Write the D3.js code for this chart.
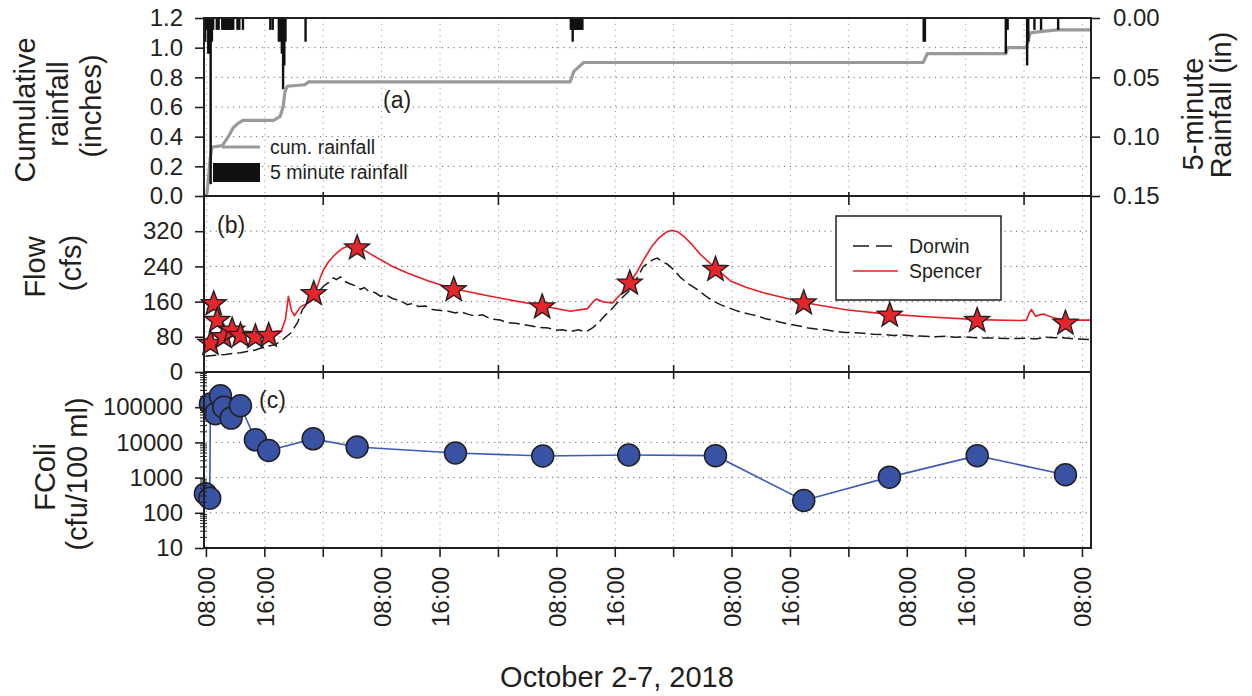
<!DOCTYPE html>
<html><head><meta charset="utf-8">
<script src="https://cdn.jsdelivr.net/npm/d3@7"></script>
<style>body{margin:0;background:#fff}svg{display:block;font-family:"Liberation Sans",Arial,Helvetica,sans-serif}</style>
</head><body><svg id="c" width="1252" height="696"></svg>
<script>
// ---- DATA (time values are hours since 2018-10-02 00:00) ----
const cumHours = [7.67, 8.0, 8.08, 8.25, 8.5, 8.75, 10.17, 11.0, 11.67, 12.33, 13.0, 17.17, 18.08, 18.5, 18.75, 19.08, 21.5, 22.0, 57.83, 58.33, 59.67, 106.17, 106.75, 117.5, 117.75, 120.33, 120.83, 122.42, 124.67, 129.17];
const cumRain  = [0, 0.01, 0.02, 0.10, 0.25, 0.33, 0.34, 0.40, 0.46, 0.49, 0.51, 0.51, 0.535, 0.60, 0.70, 0.74, 0.75, 0.77, 0.77, 0.84, 0.90, 0.90, 0.96, 0.96, 1.00, 1.00, 1.10, 1.11, 1.12, 1.12];

const rainHours = [7.83, 8.08, 8.25, 8.42, 8.58, 8.75, 8.92, 9.42, 9.67,
  10.17, 10.33, 10.5, 10.67, 10.83, 11.0, 11.17, 11.33, 11.5, 11.67,
  12.25, 12.5, 13.0, 16.75, 17.08, 17.92, 18.17, 18.33, 18.5, 18.67, 18.83, 21.58,
  57.92, 58.08, 58.17, 58.33, 58.5, 58.67, 58.83, 59.0, 59.17, 59.33, 59.5,
  106.25, 106.42, 117.5, 117.75, 120.42, 120.58, 121.42, 122.33, 124.67];
const rain5min = [0.02, 0.01, 0.03, 0.03, 0.14, 0.02, 0.01, 0.01, 0.01,
  0.01, 0.01, 0.01, 0.01, 0.01, 0.01, 0.01, 0.01, 0.01, 0.01,
  0.01, 0.01, 0.01, 0.01, 0.01, 0.02, 0.02, 0.03, 0.06, 0.04, 0.02, 0.02,
  0.01, 0.01, 0.02, 0.01, 0.01, 0.01, 0.01, 0.01, 0.01, 0.01, 0.01,
  0.02, 0.02, 0.03, 0.01, 0.04, 0.02, 0.01, 0.01, 0.01];

const spencerHours = [7.86, 9.23, 12.66, 16.77, 18.27, 18.82, 19.23, 19.64, 20.05, 20.88, 22.25, 23.21, 23.6, 24.03, 24.7, 25.40, 26.1, 26.77, 27.73, 28.68, 30.0, 31.42, 33.5, 35.53, 38.5, 41.84, 46.90, 53.75, 57.86, 60.19, 61.01, 61.42, 62.38, 63.62, 64.8, 66.08, 67.0, 68.0, 69.0, 70.0, 71.0, 71.8, 72.6, 73.4, 74.5, 75.67, 77.73, 79.78, 82.0, 84.30, 89.78, 95.81, 101.70, 107.18, 113.62, 119.51, 120.33, 120.74, 121.01, 121.56, 122.66, 124.03, 125.67, 129.10];
const spencerFlow  = [75, 83, 87, 90, 94, 120, 172, 140, 128, 148, 160, 195, 215, 232, 250, 263, 274, 282, 288, 285, 273, 259, 240, 225, 206, 189, 172, 151, 138, 144, 160, 166, 159, 157, 178, 205, 228, 258, 285, 305, 318, 322, 318, 308, 290, 267, 236, 207, 192, 180, 158, 141, 131, 125, 119, 117, 118, 135, 142, 127, 132, 123, 118, 118];

const dorwinHours = [7.86, 9.23, 10.60, 12.66, 14.71, 16.36, 17.45, 18.55, 19.51, 20.47, 21.15, 22.25, 23.21, 24.03, 24.71, 25.40, 25.81, 26.36, 27.04, 27.73, 28.41, 29.10, 29.64, 30.19, 31.15, 31.84, 32.52, 33.48, 34.58, 35.53, 36.22, 37.04, 38.00, 38.96, 40.05, 41.15, 42.11, 42.79, 43.89, 44.85, 45.81, 46.90, 48.27, 49.23, 50.33, 51.29, 52.38, 53.75, 54.85, 55.81, 56.77, 57.86, 58.96, 59.92, 60.88, 61.70, 62.52, 63.34, 64.71, 66.08, 67.04, 67.86, 68.55, 69.10, 69.78, 70.47, 71.15, 71.97, 72.93, 74.03, 75.26, 76.36, 77.32, 78.41, 79.51, 80.47, 81.42, 82.52, 83.62, 84.58, 85.53, 86.63, 88.00, 89.37, 90.47, 91.70, 92.79, 94.16, 95.53, 96.90, 98.00, 99.37, 100.74, 102.11, 103.48, 104.85, 106.49, 107.86, 109.23, 110.60, 111.70, 113.34, 114.71, 116.08, 117.45, 118.55, 120.19, 121.56, 122.93, 124.30, 125.40, 127.04, 129.10];
const dorwinFlow  = [36, 38, 40, 44, 50, 59, 62, 75, 88, 112, 142, 165, 180, 195, 203, 214, 210, 216, 205, 200, 196, 188, 192, 184, 180, 172, 176, 167, 162, 153, 156, 149, 150, 142, 140, 138, 134, 137, 131, 127, 130, 121, 118, 112, 111, 108, 105, 101, 100, 95, 96, 92, 96, 91, 100, 112, 127, 140, 165, 187, 215, 240, 248, 255, 259, 250, 245, 233, 215, 200, 187, 173, 162, 153, 146, 140, 135, 131, 127, 121, 118, 113, 108, 104, 100, 97, 96, 92, 90, 89, 88, 86, 85, 83, 84, 82, 81, 80, 81, 79, 80, 78, 77, 77, 76, 76, 77, 75, 79, 78, 78, 75, 74];

const starHours = [8.55, 9.0, 9.47, 10.37, 11.52, 12.66, 14.71, 16.53, 22.70, 28.64, 41.88, 53.99, 65.99, 77.73, 89.82, 101.60, 113.58, 125.67];
const starFlow  = [67, 157, 119, 82, 97, 85, 82, 85, 180, 284, 189, 150, 204, 235, 159, 131, 119, 113];

const fcoliHours = [7.86, 8.45, 8.55, 9.23, 9.92, 10.37, 11.38, 12.66, 14.71, 16.53, 22.62, 28.64, 42.11, 54.07, 65.85, 77.73, 89.82, 101.56, 113.58, 125.67];
const fcoli      = [350, 260, 124000, 65000, 210000, 100000, 49000, 110000, 11800, 5900, 12600, 7400, 5000, 4100, 4400, 4200, 224, 1030, 4200, 1200];

const cumTicks  = [0, 0.2, 0.4, 0.6, 0.8, 1.0, 1.2];
const rainTicks = [0, 0.05, 0.10, 0.15];
const flowTicks = [0, 80, 160, 240, 320];
const colTicks  = [10, 100, 1000, 10000, 100000];

// ---- SETUP ----
const base = new Date(2018, 9, 2, 0, 0);
const T = h => new Date(base.getTime() + h * 3600e3);
const L = 204, R = 1091, Y0 = 18, Y1 = 196, Y2 = 372, Y3 = 548;
const x = d3.scaleTime().domain([T(7.667), T(129.17)]).range([L, R]);
const yCum = d3.scaleLinear().domain([0, 1.2]).range([Y1, Y0]);
const yRain = d3.scaleLinear().domain([0, 0.15]).range([Y0, Y1]);
const yFlow = d3.scaleLinear().domain([0, 400]).range([Y2, Y1]);
const yCol = d3.scaleLog().domain([10, 1e6]).range([Y3, Y2]);

const svg = d3.select("#c");
const FONT_TICK = 24, FONT_TITLE = 29, FONT_LEG = 19.5;
const ink = "#231f20";

const xTicks = x.ticks(d3.timeHour.every(8));

// gridlines
const grid = svg.append("g");
xTicks.forEach(t => {
  grid.append("line").attr("x1", x(t)).attr("x2", x(t)).attr("y1", Y0).attr("y2", Y3)
    .attr("stroke", "#9a9a9a").attr("stroke-width", 1).attr("stroke-dasharray", "1.2,4.6");
});
const hgrid = (scale, vals) => vals.forEach(v => {
  grid.append("line").attr("x1", L).attr("x2", R).attr("y1", scale(v)).attr("y2", scale(v))
    .attr("stroke", "#666").attr("stroke-width", 1).attr("stroke-dasharray", "1.2,4.6");
});
hgrid(yCum, [0.2, 0.4, 0.6, 0.8, 1.0]);
hgrid(yFlow, [80, 160, 240, 320]);
hgrid(yCol, [100, 1000, 10000, 100000]);

// clip paths
const defs = svg.append("defs");
[["ca", Y0, Y1], ["cb", Y1, Y2], ["cc", Y2, Y3]].forEach(([id, a, b]) => {
  defs.append("clipPath").attr("id", id).append("rect").attr("x", L).attr("y", a).attr("width", R - L).attr("height", b - a);
});

// ---- PANEL A ----
const pa = svg.append("g").attr("clip-path", "url(#ca)");
const cumData = cumHours.map((h, i) => [T(h), cumRain[i]]);
pa.append("path").datum(cumData)
  .attr("d", d3.line().x(d => x(d[0])).y(d => yCum(d[1])))
  .attr("fill", "none").attr("stroke", "#999").attr("stroke-width", 3.2).attr("stroke-linejoin", "round");
pa.selectAll("rect.rain").data(rainHours.map((h, i) => [T(h), rain5min[i]])).join("rect")
  .attr("x", d => x(d[0]) - 1.2).attr("width", 2.4)
  .attr("y", Y0).attr("height", d => yRain(d[1]) - Y0).attr("fill", "#111");

// legend a
svg.append("line").attr("x1", 222).attr("x2", 260).attr("y1", 147).attr("y2", 147)
  .attr("stroke", "#999").attr("stroke-width", 3.2);
svg.append("rect").attr("x", 213).attr("y", 163).attr("width", 47).attr("height", 19).attr("fill", "#111");
svg.append("text").attr("x", 270).attr("y", 154).attr("font-size", FONT_LEG).attr("fill", ink).text("cum. rainfall");
svg.append("text").attr("x", 270).attr("y", 179).attr("font-size", FONT_LEG).attr("fill", ink).text("5 minute rainfall");
svg.append("text").attr("x", 383).attr("y", 108).attr("font-size", 23).attr("fill", ink).text("(a)");

// ---- PANEL B ----
const pb = svg.append("g").attr("clip-path", "url(#cb)");
const lineF = d3.line().x(d => x(d[0])).y(d => yFlow(d[1]));
pb.append("path").datum(dorwinHours.map((h, i) => [T(h), dorwinFlow[i]]))
  .attr("d", lineF).attr("fill", "none").attr("stroke", "#1a1a1a").attr("stroke-width", 1.5)
  .attr("stroke-dasharray", "11,5");
pb.append("path").datum(spencerHours.map((h, i) => [T(h), spencerFlow[i]]))
  .attr("d", lineF).attr("fill", "none").attr("stroke", "#ec1c24").attr("stroke-width", 1.6)
  .attr("stroke-linejoin", "round");

function starPath(ro, ri) {
  let p = "";
  for (let k = 0; k < 10; k++) {
    const r = k % 2 ? ri : ro, a = -Math.PI / 2 + k * Math.PI / 5;
    p += (k ? "L" : "M") + (r * Math.cos(a)).toFixed(2) + "," + (r * Math.sin(a)).toFixed(2);
  }
  return p + "Z";
}
svg.append("g").selectAll("path").data(starHours.map((h, i) => [T(h), starFlow[i]])).join("path")
  .attr("transform", d => `translate(${x(d[0])},${yFlow(d[1]) + 1})`)
  .attr("d", starPath(13, 5.4)).attr("fill", "#e4262b").attr("stroke", ink).attr("stroke-width", 1.4)
  .attr("stroke-linejoin", "miter");

svg.append("text").attr("x", 217).attr("y", 233).attr("font-size", 23).attr("fill", ink).text("(b)");
// legend b
svg.append("rect").attr("x", 836).attr("y", 216).attr("width", 165).attr("height", 84)
  .attr("fill", "#fff").attr("stroke", ink).attr("stroke-width", 1.5);
svg.append("line").attr("x1", 853).attr("x2", 895).attr("y1", 246).attr("y2", 246)
  .attr("stroke", "#1a1a1a").attr("stroke-width", 1.5).attr("stroke-dasharray", "16,7");
svg.append("line").attr("x1", 853).attr("x2", 898).attr("y1", 271).attr("y2", 271)
  .attr("stroke", "#ec1c24").attr("stroke-width", 1.6);
svg.append("text").attr("x", 909).attr("y", 253).attr("font-size", FONT_LEG).attr("fill", ink).text("Dorwin");
svg.append("text").attr("x", 909).attr("y", 278).attr("font-size", FONT_LEG).attr("fill", ink).text("Spencer");

// ---- PANEL C ----
const colData = fcoliHours.map((h, i) => [T(h), fcoli[i]]);
svg.append("path").datum(colData)
  .attr("d", d3.line().x(d => x(d[0])).y(d => yCol(d[1])))
  .attr("fill", "none").attr("stroke", "#3a5bb8").attr("stroke-width", 1.6);
svg.append("g").selectAll("circle").data(colData).join("circle")
  .attr("cx", d => x(d[0])).attr("cy", d => yCol(d[1])).attr("r", 11)
  .attr("fill", "#3853a4").attr("stroke", ink).attr("stroke-width", 1.5);
svg.append("text").attr("x", 259).attr("y", 408).attr("font-size", 23).attr("fill", ink).text("(c)");

// ---- FRAME & AXES ----
const frame = svg.append("g").attr("stroke", ink).attr("stroke-width", 2).attr("fill", "none");
frame.append("rect").attr("x", L).attr("y", Y0).attr("width", R - L).attr("height", Y3 - Y0);
frame.append("line").attr("x1", L).attr("x2", R).attr("y1", Y1).attr("y2", Y1);
frame.append("line").attr("x1", L).attr("x2", R).attr("y1", Y2).attr("y2", Y2);

function styleAxis(g) {
  g.select(".domain").remove();
  g.selectAll(".tick line").attr("stroke", ink).attr("stroke-width", 1.6);
  g.selectAll(".tick text").attr("fill", ink).attr("font-size", FONT_TICK).attr("font-family", null);
}
svg.append("g").attr("transform", `translate(${L},0)`)
  .call(d3.axisLeft(yCum).tickValues(cumTicks).tickFormat(d3.format(".1f")).tickSize(9).tickPadding(12)).call(styleAxis);
svg.append("g").attr("transform", `translate(${L},0)`)
  .call(d3.axisLeft(yFlow).tickValues(flowTicks).tickFormat(d3.format("d")).tickSize(9).tickPadding(12)).call(styleAxis);
svg.append("g").attr("transform", `translate(${L},0)`)
  .call(d3.axisLeft(yCol).tickValues(colTicks).tickFormat(d3.format("d")).tickSize(9).tickPadding(12)).call(styleAxis);
// log minor ticks
const minor = [];
[10, 100, 1000, 10000, 100000].forEach(dec => { for (let m = 2; m <= 9; m++) minor.push(dec * m); });
svg.append("g").selectAll("line").data(minor).join("line")
  .attr("x1", L - 4).attr("x2", L + 3).attr("y1", d => yCol(d)).attr("y2", d => yCol(d))
  .attr("stroke", ink).attr("stroke-width", 1);
svg.append("g").attr("transform", `translate(${R},0)`)
  .call(d3.axisRight(yRain).tickValues(rainTicks).tickFormat(d3.format(".2f")).tickSize(9).tickPadding(13)).call(styleAxis);

// x ticks
const xa = svg.append("g");
xTicks.forEach(t => {
  const xx = x(t);
  xa.append("line").attr("x1", xx).attr("x2", xx).attr("y1", Y3).attr("y2", Y3 + 9).attr("stroke", ink).attr("stroke-width", 1.6);
  if (t.getHours() === 0) {
    xa.append("line").attr("x1", xx).attr("x2", xx).attr("y1", Y1 - 4).attr("y2", Y1 + 9).attr("stroke", ink).attr("stroke-width", 1.6);
    xa.append("line").attr("x1", xx).attr("x2", xx).attr("y1", Y2 - 7).attr("y2", Y2 + 7).attr("stroke", ink).attr("stroke-width", 1.6);
  } else {
    xa.append("text").attr("transform", `translate(${xx + 9},567) rotate(-90)`)
      .attr("text-anchor", "end").attr("font-size", FONT_TICK).attr("fill", ink)
      .text(d3.timeFormat("%H:%M")(t));
  }
});

// titles
function vtitle(txt, bx, cy) {
  svg.append("text").attr("transform", `translate(${bx},${cy}) rotate(-90)`)
    .attr("text-anchor", "middle").attr("font-size", FONT_TITLE).attr("fill", ink).text(txt);
}
vtitle("Cumulative", 35, 110);
vtitle("rainfall", 68, 104);
vtitle("(inches)", 101, 106);
vtitle("Flow", 45, 267);
vtitle("(cfs)", 81, 263);
vtitle("FColi", 55, 477);
vtitle("(cfu/100 ml)", 87, 474);
vtitle("5-minute", 1203, 114);
vtitle("Rainfall (in)", 1231, 105);
svg.append("text").attr("x", 617).attr("y", 687).attr("text-anchor", "middle")
  .attr("font-size", FONT_TITLE).attr("fill", ink).text("October 2-7, 2018");
</script></body></html>
